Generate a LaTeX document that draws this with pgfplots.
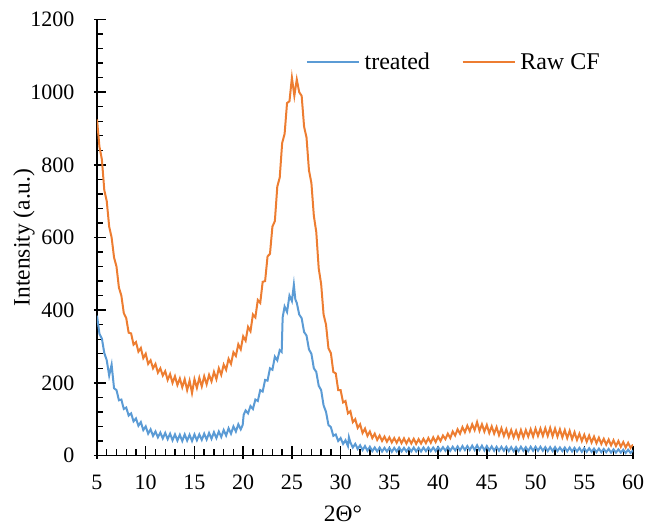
\documentclass[border=0pt]{standalone}
\usepackage{fontspec}
\setmainfont{Liberation Serif}
\usepackage{pgfplots}
\pgfplotsset{compat=1.18}
\definecolor{xlblue}{RGB}{91,155,213}
\definecolor{xlorange}{RGB}{237,125,49}
\newcommand{\tfont}{\fontsize{22bp}{26bp}\selectfont}
\newcommand{\lfont}{\fontsize{23.5bp}{28bp}\selectfont}
\newcommand{\gfont}{\fontsize{24bp}{28bp}\selectfont}
\begin{document}
\begin{tikzpicture}
\begin{axis}[
  at={(0,0)}, anchor=south west,
  scale only axis, width=536bp, height=436bp,
  xmin=5, xmax=60, ymin=0, ymax=1200,
  xtick={5,10,...,60}, ytick={0,200,...,1200},
  minor x tick num=4, minor y tick num=4,
  axis lines*=left,
  axis line style={line width=1.4bp, black},
  tick align=inside,
  major tick length=12bp, minor tick length=6bp,
  every tick/.style={line width=1.4bp, black},
  every major x tick/.append style={yshift=-3bp},
  every major y tick/.append style={xshift=-3bp},
  /pgf/number format/assume math mode=true,
  /pgf/number format/1000 sep={},
  tick label style={font=\tfont},
  yticklabel style={xshift=-19bp},
  xticklabel style={yshift=-16bp},
  xlabel={2Θ°}, ylabel={Intensity (a.u.)},
  label style={font=\lfont},
  xlabel style={at={(axis description cs:0.459,0)}, anchor=center, yshift=-58.5bp},
  ylabel style={at={(axis description cs:-0.136,0.5)}, anchor=center},
  legend columns=2,
  legend style={draw=none, fill=none, inner sep=0pt, at={(0.39,0.9025)}, anchor=west, font=\gfont,
    /tikz/every odd column/.append style={column sep=3bp},
    /tikz/every even column/.append style={column sep=30bp}},
  legend image code/.code={\draw[#1, line width=1.4bp] (0bp,0bp) -- (52bp,0bp);},
]
\addplot[xlblue, line width=2bp] coordinates {
(5.00,385) (5.25,335) (5.50,322) (5.75,282) (6.00,262) (6.25,220) (6.50,250) (6.75,185)
(7.00,180) (7.25,152) (7.50,154) (7.75,128) (8.00,132) (8.25,110) (8.50,116) (8.75,94)
(9.00,102) (9.25,82) (9.50,92) (9.75,70) (10.00,80) (10.25,60) (10.50,72) (10.75,54)
(11.00,66) (11.25,50) (11.50,63) (11.75,47) (12.00,62) (12.25,45) (12.50,60) (12.75,42)
(13.00,58) (13.25,41) (13.50,57) (13.75,40) (14.00,58) (14.25,41) (14.50,57) (14.75,40)
(15.00,58) (15.25,42) (15.50,58) (15.75,43) (16.00,60) (16.25,44) (16.50,62) (16.75,46)
(17.00,64) (17.25,48) (17.50,66) (17.75,51) (18.00,70) (18.25,55) (18.50,75) (18.75,60)
(19.00,80) (19.25,66) (19.50,86) (19.75,72) (19.95,84) (20.05,112) (20.25,124) (20.50,116)
(20.75,136) (21.00,128) (21.25,154) (21.50,150) (21.75,180) (22.00,176) (22.25,208) (22.50,206)
(22.75,240) (23.00,236) (23.25,272) (23.50,262) (23.75,290) (23.95,285) (24.05,380) (24.25,410)
(24.50,395) (24.75,440) (25.00,425) (25.20,470) (25.35,430) (25.50,420) (25.75,388) (26.00,378)
(26.25,340) (26.50,330) (26.75,292) (27.00,280) (27.25,240) (27.50,230) (27.75,192) (28.00,180)
(28.25,138) (28.50,120) (28.75,84) (29.00,78) (29.25,54) (29.50,58) (29.75,40) (30.00,48)
(30.25,32) (30.50,42) (30.75,26) (30.85,50) (31.00,36) (31.25,22) (31.50,32) (31.75,18) (32.00,28)
(32.25,15) (32.50,26) (32.75,13) (33.00,24) (33.25,12) (33.50,22) (33.75,11) (34.00,22)
(34.25,11) (34.50,21) (34.75,11) (35.00,21) (35.25,10) (35.50,21) (35.75,11) (36.00,22)
(36.25,11) (36.50,21) (36.75,11) (37.00,21) (37.25,11) (37.50,22) (37.75,11) (38.00,21)
(38.25,11) (38.50,22) (38.75,12) (39.00,22) (39.25,12) (39.50,22) (39.75,12) (40.00,23)
(40.25,13) (40.50,23) (40.75,13) (41.00,24) (41.25,13) (41.50,24) (41.75,14) (42.00,25)
(42.25,14) (42.50,26) (42.75,15) (43.00,26) (43.25,15) (43.50,27) (43.75,15) (44.00,28)
(44.25,15) (44.50,27) (44.75,14) (45.00,26) (45.25,14) (45.50,25) (45.75,13) (46.00,24)
(46.25,13) (46.50,24) (46.75,13) (47.00,24) (47.25,12) (47.50,23) (47.75,12) (48.00,23)
(48.25,12) (48.50,24) (48.75,13) (49.00,23) (49.25,12) (49.50,24) (49.75,13) (50.00,24)
(50.25,13) (50.50,24) (50.75,13) (51.00,23) (51.25,12) (51.50,23) (51.75,12) (52.00,23)
(52.25,12) (52.50,22) (52.75,12) (53.00,22) (53.25,11) (53.50,22) (53.75,11) (54.00,21)
(54.25,11) (54.50,21) (54.75,10) (55.00,20) (55.25,10) (55.50,20) (55.75,10) (56.00,19)
(56.25,9) (56.50,19) (56.75,9) (57.00,18) (57.25,9) (57.50,18) (57.75,8) (58.00,17)
(58.25,8) (58.50,17) (58.75,8) (59.00,16) (59.25,7) (59.50,16) (59.75,7) (60.00,14)
};
\addlegendentry{treated}
\addplot[xlorange, line width=2bp] coordinates {
(5.00,925) (5.25,850) (5.50,815) (5.75,730) (6.00,700) (6.25,630) (6.50,600) (6.75,545)
(7.00,520) (7.25,462) (7.50,440) (7.75,392) (8.00,378) (8.25,338) (8.50,336) (8.75,305)
(9.00,312) (9.25,286) (9.50,296) (9.75,268) (10.00,280) (10.25,252) (10.50,262) (10.75,240)
(11.00,252) (11.25,228) (11.50,240) (11.75,220) (12.00,232) (12.25,208) (12.50,224) (12.75,200)
(13.00,218) (13.25,194) (13.50,212) (13.75,188) (14.00,210) (14.25,180) (14.50,206) (14.75,172)
(15.00,210) (15.25,186) (15.50,214) (15.75,190) (16.00,218) (16.25,196) (16.50,222) (16.75,204)
(17.00,230) (17.25,210) (17.50,240) (17.75,222) (18.00,250) (18.25,236) (18.50,266) (18.75,252)
(19.00,284) (19.25,274) (19.50,306) (19.75,292) (20.00,328) (20.25,316) (20.50,354) (20.75,342)
(21.00,388) (21.25,380) (21.50,428) (21.75,420) (22.00,478) (22.25,480) (22.50,548) (22.75,555)
(23.00,630) (23.25,645) (23.50,740) (23.75,765) (24.00,860) (24.25,885) (24.50,970) (24.75,975)
(25.00,1040) (25.25,990) (25.50,1035) (25.75,1000) (26.00,990) (26.25,905) (26.50,875) (26.75,785)
(27.00,750) (27.25,660) (27.50,615) (27.75,515) (28.00,472) (28.25,388) (28.50,360) (28.75,295)
(29.00,282) (29.25,230) (29.50,226) (29.75,180) (30.00,180) (30.25,146) (30.50,150) (30.75,116)
(31.00,122) (31.25,92) (31.50,100) (31.75,76) (32.00,86) (32.25,62) (32.50,74) (32.75,54)
(33.00,66) (33.25,48) (33.50,60) (33.75,43) (34.00,55) (34.25,40) (34.50,52) (34.75,38)
(35.00,50) (35.25,36) (35.50,48) (35.75,35) (36.00,48) (36.25,34) (36.50,47) (36.75,33)
(37.00,46) (37.25,33) (37.50,46) (37.75,32) (38.00,45) (38.25,33) (38.50,46) (38.75,34)
(39.00,48) (39.25,35) (39.50,50) (39.75,37) (40.00,52) (40.25,40) (40.50,55) (40.75,45)
(41.00,60) (41.25,48) (41.50,66) (41.75,55) (42.00,72) (42.25,60) (42.50,78) (42.75,64)
(43.00,82) (43.25,67) (43.50,86) (43.75,70) (44.00,92) (44.25,68) (44.50,86) (44.75,66)
(45.00,84) (45.25,62) (45.50,80) (45.75,60) (46.00,78) (46.25,56) (46.50,75) (46.75,54)
(47.00,72) (47.25,51) (47.50,70) (47.75,50) (48.00,68) (48.25,48) (48.50,70) (48.75,50)
(49.00,70) (49.25,52) (49.50,72) (49.75,52) (50.00,74) (50.25,54) (50.50,74) (50.75,54)
(51.00,75) (51.25,54) (51.50,76) (51.75,53) (52.00,74) (52.25,52) (52.50,72) (52.75,50)
(53.00,70) (53.25,48) (53.50,68) (53.75,45) (54.00,64) (54.25,43) (54.50,60) (54.75,40)
(55.00,57) (55.25,38) (55.50,55) (55.75,36) (56.00,52) (56.25,34) (56.50,49) (56.75,32)
(57.00,46) (57.25,30) (57.50,44) (57.75,28) (58.00,42) (58.25,26) (58.50,40) (58.75,24)
(59.00,37) (59.25,22) (59.50,35) (59.75,21) (60.00,30)
};
\addlegendentry{Raw CF}
\end{axis}
\pgfresetboundingbox
\path[use as bounding box] (-97bp,-70.5bp) rectangle (563bp,455.5bp);
\end{tikzpicture}
\end{document}
